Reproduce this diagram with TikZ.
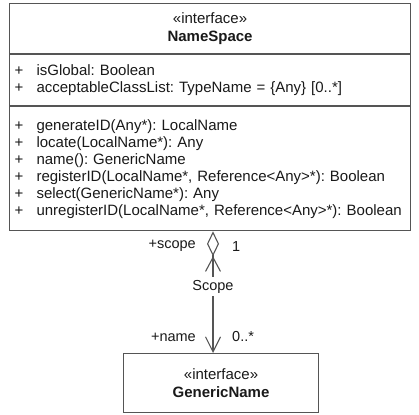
\documentclass[tikz,border=0pt]{standalone}
\usepackage{fontspec}
\setmainfont{Liberation Sans}
\usetikzlibrary{arrows.meta,calc,positioning}
\definecolor{umlline}{RGB}{85,85,85}
\definecolor{umltext}{RGB}{25,25,25}
\newcommand{\op}[1]{\makebox[22pt][l]{+}#1}
\frenchspacing

\begin{document}
\begin{tikzpicture}[x=1pt,y=-1pt,
  compart/.style={draw=umlline,line width=1.1pt,inner xsep=5pt,inner ysep=0pt,
    text=umltext,font=\fontsize{15}{17}\selectfont},
  title/.style={compart,align=center,font=\fontsize{15}{18}\selectfont},
  lbl/.style={text=umltext,font=\fontsize{14.5}{17}\selectfont,inner sep=1pt}]
  \useasboundingbox (0,0) rectangle (419,414);
  % NameSpace interface
  \node[title,anchor=north west,minimum width=401pt,minimum height=50pt,text width=391pt]
    (nstitle) at (9,3) {«interface»\\\textbf{NameSpace}};
  \node[compart,below=0pt of nstitle,minimum width=401pt,minimum height=51pt,
    text width=391pt,align=left] (nsattr)
    {\op{isGlobal: Boolean}\\
     \op{acceptableClassList: TypeName = \{Any\} [0..*]}};
  \node[compart,below=0pt of nsattr,minimum width=401pt,minimum height=124pt,
    text width=391pt,align=left] (nsops)
    {\op{generateID(Any*): LocalName}\\
     \op{locate(LocalName*): Any}\\
     \op{name(): GenericName}\\
     \op{registerID(LocalName*, Reference<Any>*): Boolean}\\
     \op{select(GenericName*): Any}\\
     \op{unregisterID(LocalName*, Reference<Any>*): Boolean}};
  % GenericName interface
  \node[title,anchor=north west,minimum width=195pt,minimum height=59pt]
    (gn) at (123,353) {«interface»\\\textbf{GenericName}};
  % association
  \coordinate (assoc) at (213,0);
  \draw[draw=umlline,line width=1.1pt,
    {Diamond[open,length=25pt,width=12pt]Straight Barb[length=14pt,width=15pt]}-{Straight Barb[length=15pt,width=15pt]}]
    (nsops.south -| assoc) -- (gn.north -| assoc)
    node[lbl,pos=.455,fill=white,inner ysep=3pt] (scope) {Scope};
  \node[lbl,anchor=east] (scoperole) at ($(nsops.south -| assoc)+(-16,15)$) {+scope};
  \node[lbl,anchor=west] (scopemult) at ($(nsops.south -| assoc)+(18,15)$) {1};
  \node[lbl,anchor=east] (namerole) at ($(gn.north -| assoc)+(-16,-16)$) {+name};
  \node[lbl,anchor=west] (namemult) at ($(gn.north -| assoc)+(18,-16)$) {0..*};
\end{tikzpicture}
\end{document}
